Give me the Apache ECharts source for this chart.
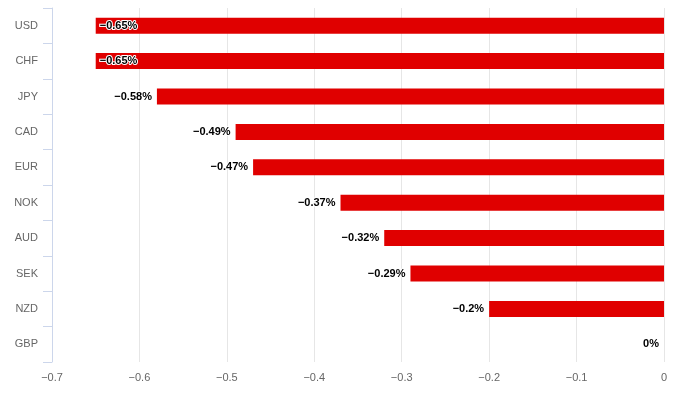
<!DOCTYPE html>
<html><head><meta charset="utf-8">
<script src="https://cdn.jsdelivr.net/npm/echarts@6/dist/echarts.min.js"></script>
<style>html,body{margin:0;padding:0;background:#fff}#c{width:673px;height:399px}</style>
</head><body><div id="c"></div>
<script>
const categories = ['USD','CHF','JPY','CAD','EUR','NOK','AUD','SEK','NZD','GBP'];
const values = [-0.65,-0.65,-0.58,-0.49,-0.47,-0.37,-0.32,-0.29,-0.2,0];
const xMin = -0.7, xMax = 0, xStep = 0.1;

const fontFam = '"Lucida Grande","Lucida Sans Unicode",Arial,Helvetica,sans-serif';
const fmt = v => v === 0 ? '0%' : (v < 0 ? '\u2212' : '') + Math.abs(v) + '%';
const chart = echarts.init(document.getElementById('c'));
chart.setOption({
  animation: false,
  grid: {left: 52, right: 9, top: 8, bottom: 37, containLabel: false},
  xAxis: {
    type: 'value', min: xMin, max: xMax, interval: xStep,
    axisLine: {show: false}, axisTick: {show: false},
    splitLine: {lineStyle: {color: '#e6e6e6', width: 1}},
    axisLabel: {color: '#666', fontSize: 11, fontFamily: fontFam, margin: 10,
      formatter: v => { const r = Math.round(v*10)/10; return r < 0 ? '\u2212' + Math.abs(r) : String(r); }}
  },
  yAxis: {
    type: 'category', data: categories, inverse: true, position: 'left',
    axisLine: {onZero: false, lineStyle: {color: '#ccd6eb', width: 1}},
    axisTick: {show: true, length: 9, lineStyle: {color: '#ccd6eb'}},
    axisLabel: {color: '#666', fontSize: 11, fontFamily: fontFam, margin: 14}
  },
  series: [{
    type: 'bar', barWidth: 16,
    itemStyle: {color: '#e00000'},
    data: values.map(v => ({
      value: v,
      label: (v - xMin) < 0.1 ? {position: 'insideLeft', distance: 4} : {position: 'left', distance: 5}
    })),
    label: {show: true, formatter: p => fmt(p.value), color: '#000', fontWeight: 'bold',
      fontSize: 11, fontFamily: fontFam, textBorderColor: '#fff', textBorderWidth: 2}
  }]
});
</script></body></html>
